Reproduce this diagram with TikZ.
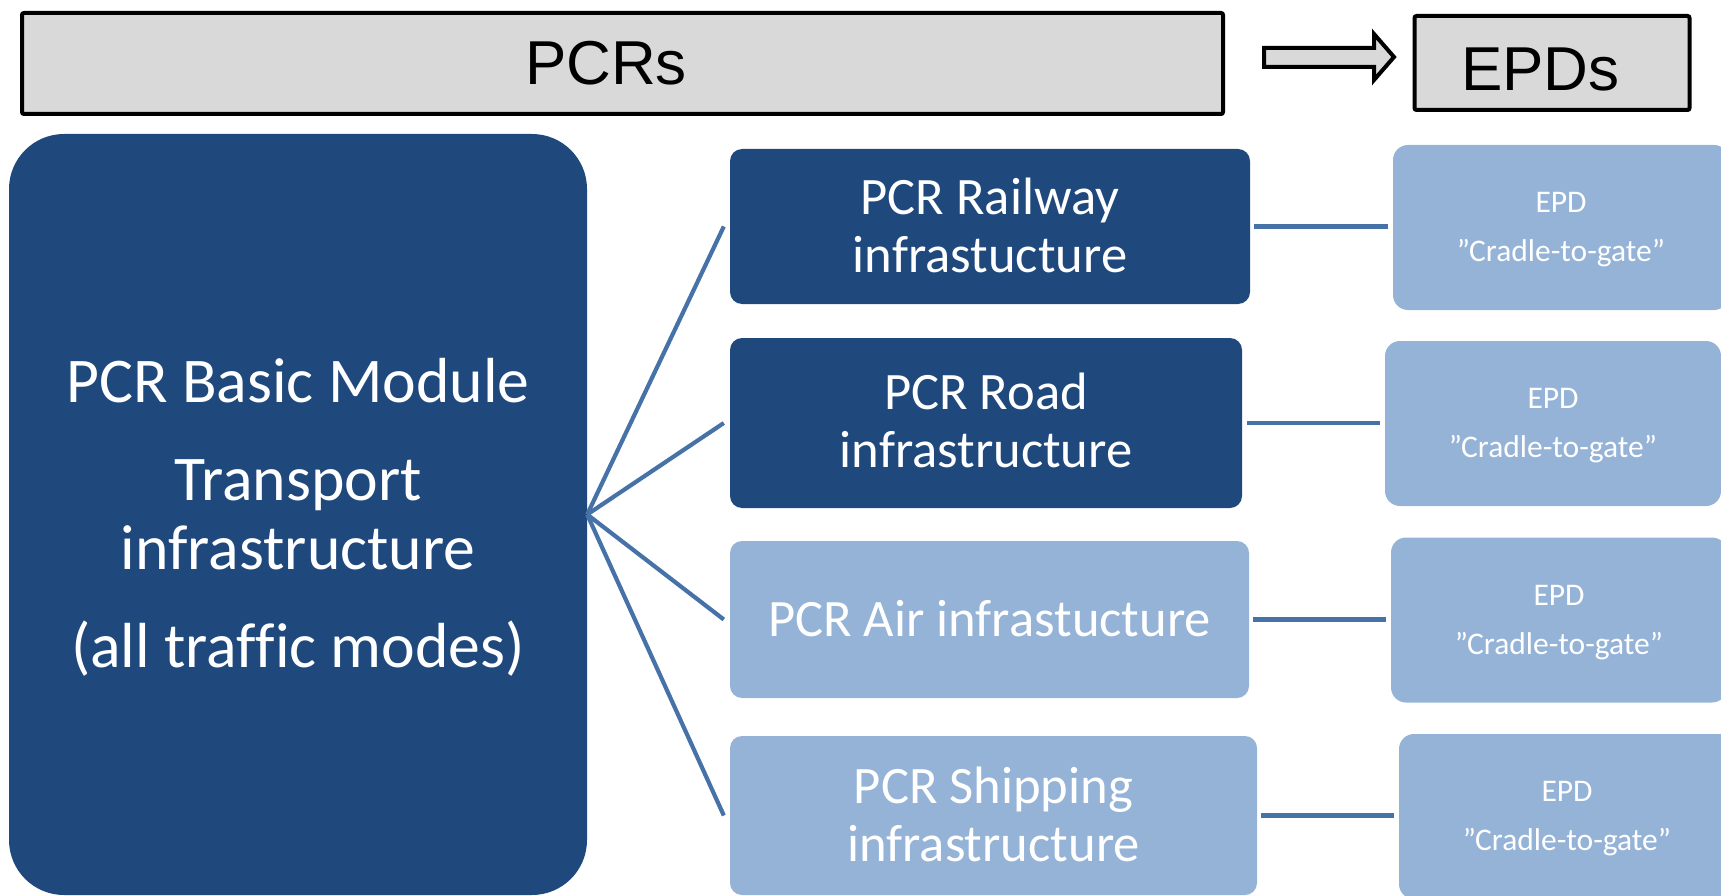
\documentclass[tikz,border=0pt]{standalone}
\usepackage{fontspec}
\setmainfont{Carlito}[Ligatures=CommonOff]
\newfontfamily\headfont{Liberation Sans}
\definecolor{darkblue}{RGB}{31,73,125}
\definecolor{lightblue}{RGB}{149,179,215}
\definecolor{linkblue}{RGB}{70,114,168}
\definecolor{headgray}{RGB}{217,217,217}
\tikzset{
  headbox/.style={draw=black, line width=4pt, fill=headgray, rounded corners=2pt,
    inner sep=0pt, font=\headfont\fontsize{62}{70}\selectfont},
  basebox/.style={fill=darkblue, rounded corners=55pt, minimum width=578pt,
    minimum height=761pt, text=white, align=center, inner sep=0pt,
    font=\fontsize{63.7}{69}\selectfont},
  pcrbox/.style={rounded corners=12pt, text=white, align=center, inner sep=0pt,
    font=\fontsize{52.6}{58}\selectfont},
  darkpcr/.style={pcrbox, fill=darkblue},
  lightpcr/.style={pcrbox, fill=lightblue},
  epdbox/.style={fill=lightblue, rounded corners=15pt, minimum width=336pt,
    minimum height=165pt, text=white, align=center, inner sep=0pt,
    font=\fontsize{31.5}{49}\selectfont},
  fanlink/.style={draw=linkblue, line width=4.2pt},
  epdlink/.style={draw=linkblue, line width=4.8pt},
  blockarrow/.style={draw=black, fill=headgray, line width=4pt, line join=miter},
}
\newcommand\epdtext{\rule{0pt}{33.7pt}EPD\\”Cradle-to-gate”\strut}
\begin{document}
\begin{tikzpicture}[x=1pt,y=-1pt]
\useasboundingbox (0,0) rectangle (1721,896);

% header bar and target box
\node[headbox, minimum width=1201pt, minimum height=101pt] (pcrs) at (622.5,63.5)
  {\rule{0pt}{58pt}PCRs\rule[-15pt]{0pt}{0pt}\kern33pt};
\node[headbox, minimum width=275pt, minimum height=94pt] (epds) at (1552,63)
  {\rule{0pt}{66pt}EPDs\rule[-10pt]{0pt}{0pt}\kern23pt};
\draw[blockarrow] (1264,48) -- (1374,48) -- (1374,34) -- (1394,57)
  -- (1374,80) -- (1374,67) -- (1264,67) -- cycle;

% basic module
\node[basebox] (base) at (298,514.5)
  {\rule{0pt}{61.2pt}PCR Basic Module\\[29pt]\strut Transport\\\strut infrastructure\\[28.5pt]\strut (all traffic modes)};

% sector specific PCRs
\node[darkpcr, minimum width=520pt, minimum height=155pt] (rail) at (990,226.5)
  {\rule{0pt}{50.4pt}PCR Railway\\infrastucture\strut};
\node[darkpcr, minimum width=512pt, minimum height=170pt] (road) at (986,423)
  {\rule{0pt}{48.4pt}PCR Road\\infrastructure\strut};
\node[lightpcr, minimum width=519pt, minimum height=157pt] (air) at (989.5,619.5)
  {\rule{0pt}{50.4pt}PCR Air infrastucture\strut};
\node[lightpcr, minimum width=527pt, minimum height=159pt] (ship) at (993.5,815.5)
  {\rule{0pt}{50.4pt}PCR Shipping\\infrastructure\strut};

% EPDs
\node[epdbox] (epd1) at (1561,227.5) {\epdtext};
\node[epdbox] (epd2) at (1553,423.5) {\epdtext};
\node[epdbox] (epd3) at (1559,620) {\epdtext};
\node[epdbox] (epd4) at (1567,816.5) {\epdtext};

% fan from the basic module
\foreach \c in {rail,road,air,ship}
  \draw[fanlink] (base.east) -- ([xshift=-6pt]\c.west);

% links to the EPDs
\draw[epdlink] ([xshift=4pt]rail.east) -- ([xshift=-5pt]rail.east -| epd1.west);
\draw[epdlink] ([xshift=5pt]road.east) -- ([xshift=-5pt]road.east -| epd2.west);
\draw[epdlink] ([xshift=4pt]air.east) -- ([xshift=-5pt]air.east -| epd3.west);
\draw[epdlink] ([xshift=4pt]ship.east) -- ([xshift=-5pt]ship.east -| epd4.west);
\end{tikzpicture}
\end{document}
